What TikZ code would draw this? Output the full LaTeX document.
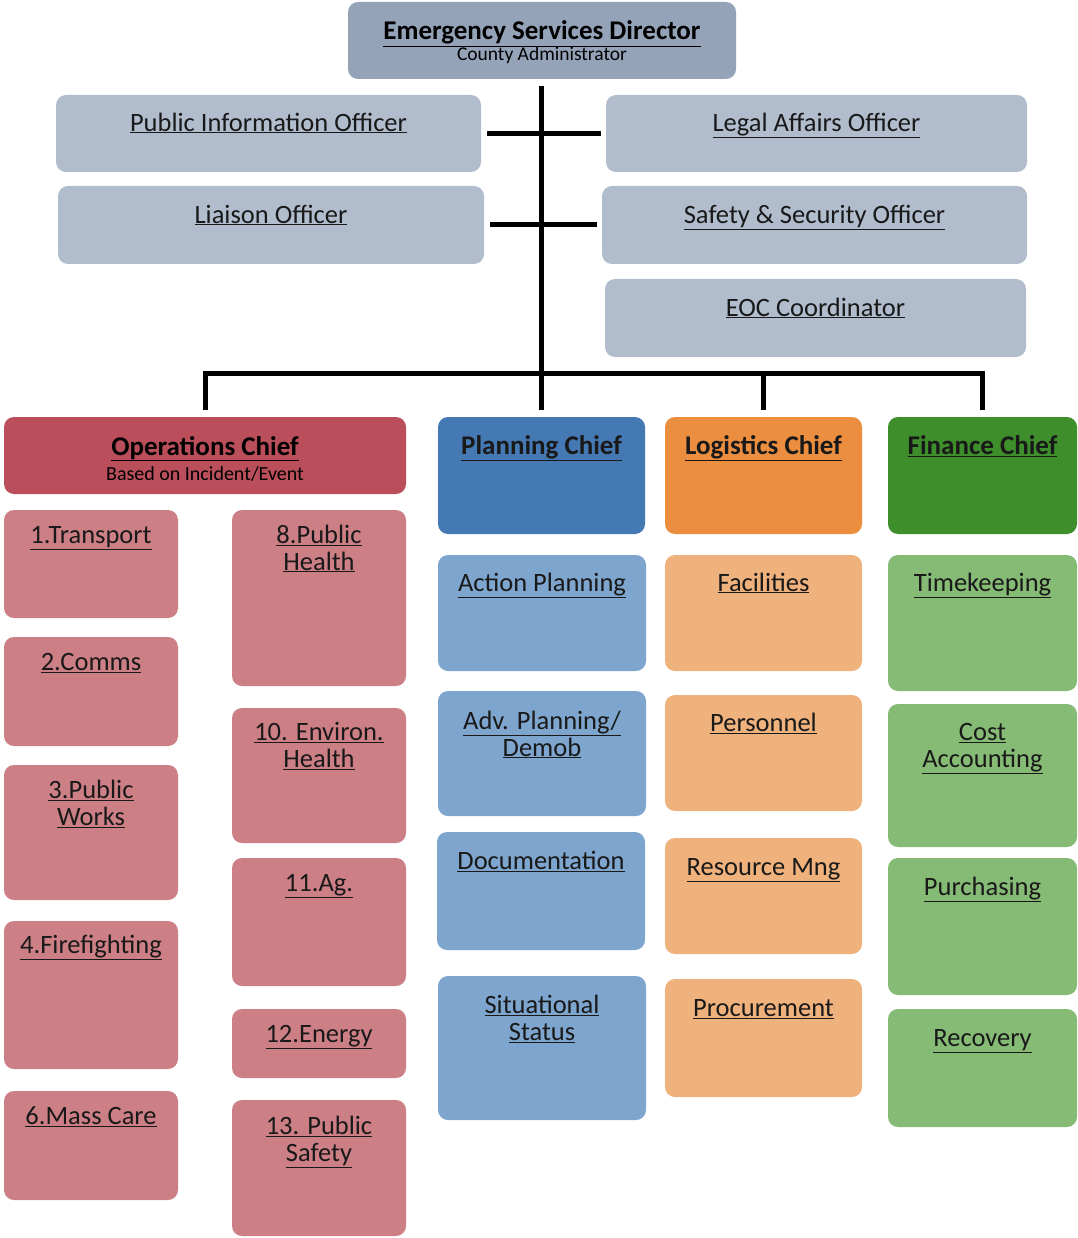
\documentclass[tikz,border=0pt]{standalone}
\usepackage{fontspec}
\setmainfont{Carlito}
\definecolor{dirc}{HTML}{95A3B9}
\definecolor{offc}{HTML}{B1BDCD}
\definecolor{opsC}{HTML}{BA4F5B}
\definecolor{opsc}{HTML}{CD7F86}
\definecolor{plaC}{HTML}{4579B4}
\definecolor{plac}{HTML}{7EA5CD}
\definecolor{logC}{HTML}{EB8E40}
\definecolor{logc}{HTML}{F0B27D}
\definecolor{finC}{HTML}{3E8E2B}
\definecolor{finc}{HTML}{86BB75}
\newcommand\lab[1]{\strut\underline{#1}}
\tikzset{
  box/.style={rounded corners=10pt, draw=none, inner sep=0pt, outer sep=0pt},
  lbl/.style={anchor=north, inner sep=0pt, align=center, text=black!90,
    font=\fontsize{26.5}{27}\selectfont},
  blbl/.style={lbl, font=\fontsize{27}{27}\selectfont\bfseries},
  conn/.style={line width=5pt, black},
}
% name, x1, y1, x2, y2, colour, text style, text, text offset
\newcommand\bx[9]{%
  \node[box, fill=#6, minimum width={(#4-#2)*1pt}, minimum height={(#5-#3)*1pt},
        anchor=north west] (#1) at (#2,#3) {};
  \node[#7] at ([yshift={-(#9-10)*1pt}]#1.north) {#8};
}
\begin{document}
\begin{tikzpicture}[x=1pt,y=-1pt]
\useasboundingbox (0,0) rectangle (1077,1238);
% director
\node[box, fill=dirc, minimum width=388pt, minimum height=77pt, anchor=north west] (dir) at (348,2) {};
\node[anchor=base, inner sep=0pt, font=\fontsize{27}{27}\selectfont\bfseries] (dirt) at ([yshift=-38pt]dir.north) {\underline{Emergency Services Director}};
\node[anchor=base, inner sep=0pt, font=\fontsize{19.5}{20}\selectfont] (dirs) at ([yshift=-59pt]dir.north) {County Administrator};
% officers
\bx{pio}{56}{95}{481}{172}{offc}{lbl}{\lab{Public Information Officer}}{27}
\bx{legal}{606}{95}{1027}{172}{offc}{lbl}{\lab{Legal Affairs Officer}}{27}
\bx{liaison}{58}{186}{484}{264}{offc}{lbl}{\lab{Liaison Officer}}{28}
\bx{safety}{602}{186}{1027}{264}{offc}{lbl}{\lab{Safety \& Security Officer}}{28}
\bx{eoc}{605}{279}{1026}{357}{offc}{lbl}{\lab{EOC Coordinator}}{28}
% chiefs
\node[box, fill=opsC, minimum width=402pt, minimum height=77pt, anchor=north west] (ops) at (4,417) {};
\node[anchor=base, inner sep=0pt, font=\fontsize{27}{27}\selectfont\bfseries] (opst) at ([yshift=-38pt]ops.north) {\underline{Operations Chief}};
\node[anchor=base, inner sep=0pt, font=\fontsize{20}{20}\selectfont] (opss) at ([yshift=-63pt]ops.north) {Based on Incident/Event};
\bx{plan}{438}{417}{645}{534}{plaC}{blbl}{\lab{Planning Chief}}{28}
\bx{logi}{665}{417}{862}{534}{logC}{blbl}{\lab{Logistics Chief}}{28}
\bx{fin}{888}{417}{1077}{534}{finC}{blbl}{\lab{Finance Chief}}{28}
% operations units
\bx{o1}{4}{510}{178}{618}{opsc}{lbl}{\lab{1.Transport}}{24}
\bx{o2}{4}{637}{178}{746}{opsc}{lbl}{\lab{2.Comms}}{24}
\bx{o3}{4}{765}{178}{900}{opsc}{lbl}{\lab{3.Public}\\\lab{Works}}{24}
\bx{o4}{4}{921}{178}{1069}{opsc}{lbl}{\lab{4.Firefighting}}{23}
\bx{o6}{4}{1091}{178}{1200}{opsc}{lbl}{\lab{6.Mass Care}}{24}
\bx{o8}{232}{510}{406}{686}{opsc}{lbl}{\lab{8.Public}\\\lab{Health}}{24}
\bx{o10}{232}{708}{406}{843}{opsc}{lbl}{\lab{10. Environ.}\\\lab{Health}}{23}
\bx{o11}{232}{858}{406}{986}{opsc}{lbl}{\lab{11.Ag.}}{24}
\bx{o12}{232}{1009}{406}{1078}{opsc}{lbl}{\lab{12.Energy}}{24}
\bx{o13}{232}{1100}{406}{1236}{opsc}{lbl}{\lab{13. Public}\\\lab{Safety}}{25}
% planning units
\bx{p1}{438}{555}{646}{671}{plac}{lbl}{\lab{Action Planning}}{27}
\bx{p2}{438}{691}{646}{816}{plac}{lbl}{\lab{Adv. Planning/}\\\lab{Demob}}{29}
\bx{p3}{437}{832}{645}{950}{plac}{lbl}{\lab{Documentation}}{28}
\bx{p4}{438}{976}{646}{1120}{plac}{lbl}{\lab{Situational}\\\lab{Status}}{28}
% logistics units
\bx{l1}{665}{555}{862}{671}{logc}{lbl}{\lab{Facilities}}{27}
\bx{l2}{665}{695}{862}{811}{logc}{lbl}{\lab{Personnel}}{27}
\bx{l3}{665}{838}{862}{954}{logc}{lbl}{\lab{Resource Mng}}{28}
\bx{l4}{665}{979}{862}{1097}{logc}{lbl}{\lab{Procurement}}{28}
% finance units
\bx{f1}{888}{555}{1077}{691}{finc}{lbl}{\lab{Timekeeping}}{27}
\bx{f2}{888}{704}{1077}{847}{finc}{lbl}{\lab{Cost}\\\lab{Accounting}}{27}
\bx{f3}{888}{858}{1077}{995}{finc}{lbl}{\lab{Purchasing}}{28}
\bx{f4}{888}{1009}{1077}{1127}{finc}{lbl}{\lab{Recovery}}{28}
% connectors
\coordinate (bus) at (541,373);
\draw[conn, shorten <=7pt] (dir.south -| bus) -- (bus);
\draw[conn, shorten <=6pt, shorten >=5pt] (pio.east) -- (legal.west);
\draw[conn, shorten <=6pt, shorten >=5pt] (liaison.east) -- (safety.west);
\draw[conn, shorten >=7pt] (bus) -| (ops.north);
\draw[conn, shorten >=7pt] (bus) -| (fin.north);
\draw[conn, shorten >=7pt] (bus) -- (plan.north -| bus);
\draw[conn, shorten >=7pt] (bus) -| (logi.north);
\end{tikzpicture}
\end{document}
